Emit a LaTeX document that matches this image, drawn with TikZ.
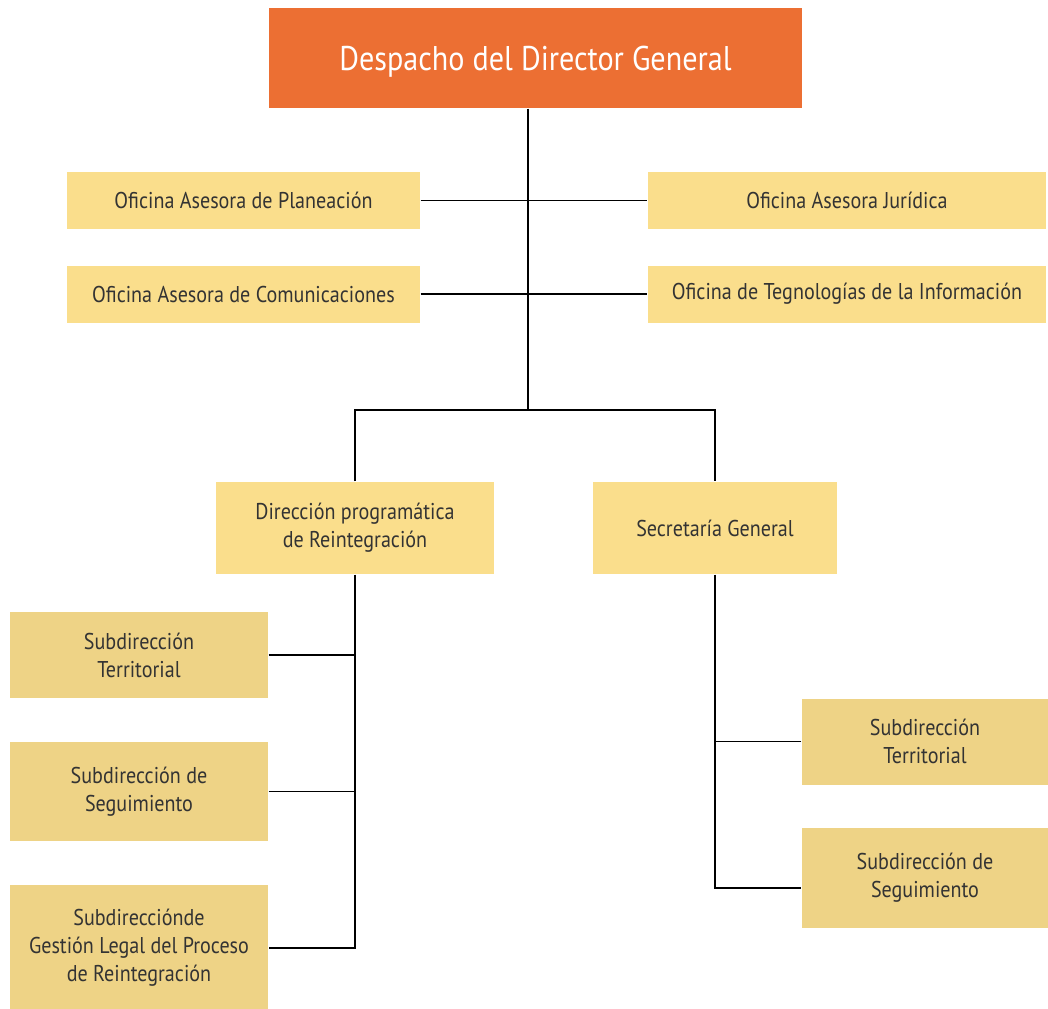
\documentclass[tikz,border=0pt]{standalone}
\usepackage{fontspec}
\setmainfont{PT Sans}[FakeStretch=0.88]
\usepackage{tikz}
\definecolor{despacho}{HTML}{EC6F33}
\definecolor{oficina}{HTML}{FADE8C}
\definecolor{subdir}{HTML}{EED386}
\definecolor{texto}{HTML}{333333}
\tikzset{
every picture/.style={line width=0.8pt},
caja/.style={fill=oficina, text=texto, align=center, inner sep=0pt,
  font=\fontsize{13}{16}\selectfont},
subcaja/.style={caja, fill=subdir},
medida/.style 2 args={minimum width=#1*0.02cm, minimum height=#2*0.02cm}
}

\begin{document}
\begin{tikzpicture}[x=0.02cm, y=-0.02cm]
      \useasboundingbox (0,0) rectangle (1048,1008);
      \node[fill=despacho, text=white, inner sep=0pt, medida={533}{100}, text depth=0pt,
        font=\fontsize{19.5}{24}\selectfont] (despacho) at (535.5,58) {Despacho del Director General};
      % oficinas asesoras
      \node[caja, medida={353}{57}] (planeacion) at (243.5,200.5) {Oficina Asesora de Planeación};
      \node[caja, medida={398}{57}] (juridica) at (847,200.5) {Oficina Asesora Jurídica};
      \node[caja, medida={353}{57}] (comunicaciones) at (243.5,294) {Oficina Asesora de Comunicaciones};
      \node[caja, medida={398}{57}] (tecnologias) at (847,294) {Oficina de Tegnologías de la Información};
      % direcciones
      \node[caja, medida={278}{92}] (dirprog) at (355,528) {Dirección programática\\de Reintegración};
      \node[caja, medida={244}{92}] (secgen) at (715,528) {Secretaría General};
      % subdirecciones
      \node[subcaja, medida={258}{86}] (territorial) at (139,655) {Subdirección\\Territorial};
      \node[subcaja, medida={258}{99}] (seguimiento) at (139,791.5) {Subdirección de\\Seguimiento};
      \node[subcaja, medida={258}{126}] (gestion) at (139,948) {Subdirecciónde\\Gestión Legal del Proceso\\de Reintegración};
      \node[subcaja, medida={246}{86}] (territorial2) at (925,741.5) {Subdirección\\Territorial};
      \node[subcaja, medida={246}{100}] (seguimiento2) at (925,878) {Subdirección de\\Seguimiento};

      \coordinate (hub) at (528,410);
      \draw (hub |- despacho.south) -- (hub);
      \draw (planeacion.east) -- (juridica.west);
      \draw (comunicaciones.east) -- (tecnologias.west);
      \draw (dirprog.north) |- (hub) -| (secgen.north);
      \draw (dirprog.south) |- (gestion.east);
      \foreach \n in {territorial, seguimiento}
        \draw (\n.east) -- (\n.east -| dirprog.south);
      \draw (secgen.south) |- ([yshift=-0.2cm]seguimiento2.west);
      \draw (territorial2.west) -- (territorial2.west -| secgen.south);
    \end{tikzpicture}
\end{document}
